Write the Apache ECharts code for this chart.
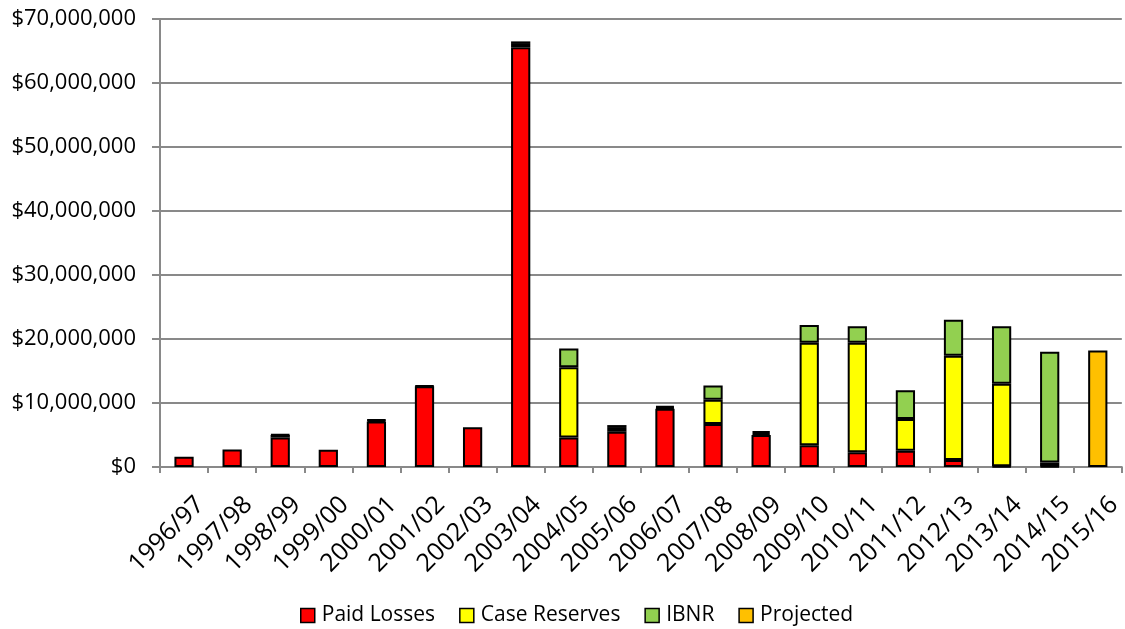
<!DOCTYPE html>
<html>
<head>
<meta charset="utf-8">
<script src="https://cdn.jsdelivr.net/npm/echarts@6/dist/echarts.min.js"></script>
<style>
html,body{margin:0;padding:0;background:#fff;}
#chart{width:1125px;height:629px;}
</style>
</head>
<body>
<div id="chart"></div>
<script>
const categories = ['1996/97','1997/98','1998/99','1999/00','2000/01','2001/02','2002/03','2003/04','2004/05','2005/06','2006/07','2007/08','2008/09','2009/10','2010/11','2011/12','2012/13','2013/14','2014/15','2015/16'];
const paidLosses    = [1600000, 2750000, 4600000, 2700000, 7100000, 12600000, 6200000, 65600000, 4600000, 5500000, 9100000, 6700000, 5000000, 3400000, 2300000, 2550000, 1100000, 100000, 100000, null];
const caseReserves  = [null, null, 400000, null, 200000, null, null, 500000, 11000000, 600000, 200000, 3800000, 300000, 16000000, 17100000, 4950000, 16300000, 12900000, 600000, null];
const ibnr          = [null, null, 100000, null, 100000, 100000, null, 400000, 2900000, 450000, 200000, 2250000, 300000, 2800000, 2600000, 4500000, 5600000, 9000000, 17300000, null];
const projected     = [null, null, null, null, null, null, null, null, null, null, null, null, null, null, null, null, null, null, null, 18200000];
const yTicks = {min: 0, max: 70000000, interval: 10000000};

const FONT = '"Open Sans", sans-serif';
const chart = echarts.init(document.getElementById('chart'), null, {renderer: 'canvas'});
const border = {borderColor: '#000', borderWidth: 2};
function mk(name, data, color) {
  return {
    name: name, type: 'bar', stack: 'total', data: data, barWidth: '40%',
    itemStyle: Object.assign({color: color}, border),
    emphasis: {disabled: true}
  };
}
chart.setOption({
  animation: false,
  backgroundColor: '#fff',
  textStyle: {fontFamily: FONT},
  grid: {left: 160, right: 3, top: 19, bottom: 162, containLabel: false},
  legend: {
    top: 600, left: 295,
    itemWidth: 14, itemHeight: 14, itemGap: 24,
    icon: 'rect',
    itemStyle: {borderColor: '#000', borderWidth: 1.5},
    textStyle: {fontFamily: FONT, fontSize: 21, color: '#000', padding: [0, 0, 0, 2]},
    data: ['Paid Losses', 'Case Reserves', 'IBNR', 'Projected']
  },
  xAxis: {
    type: 'category', data: categories,
    axisLine: {lineStyle: {color: '#898989', width: 2}},
    axisTick: {show: true, length: 6, lineStyle: {color: '#898989', width: 2}},
    axisLabel: {rotate: 45, margin: 50, fontFamily: FONT, fontSize: 25, color: '#000', interval: 0,
                padding: [0, -23, 0, 0]}
  },
  yAxis: {
    type: 'value', min: yTicks.min, max: yTicks.max, interval: yTicks.interval,
    axisLine: {show: true, lineStyle: {color: '#898989', width: 2}},
    axisTick: {show: true, length: 8, lineStyle: {color: '#898989', width: 2}},
    splitLine: {lineStyle: {color: '#898989', width: 2}},
    axisLabel: {
      margin: 24, fontFamily: FONT, fontSize: 22, color: '#000',
      formatter: v => '$' + v.toLocaleString('en-US')
    }
  },
  series: [
    mk('Paid Losses', paidLosses, '#FF0000'),
    mk('Case Reserves', caseReserves, '#FFFF00'),
    mk('IBNR', ibnr, '#92D050'),
    mk('Projected', projected, '#FFC000')
  ]
});
</script>
</body>
</html>
